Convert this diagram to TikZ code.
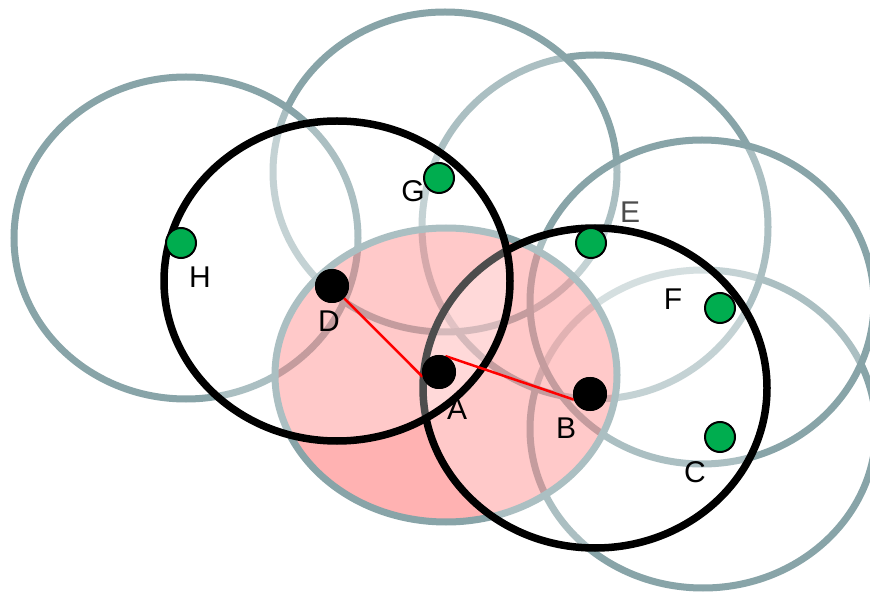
\documentclass[tikz,border=0pt]{standalone}
\usepackage{fontspec}
\setmainfont{Liberation Sans}
\definecolor{rangegrey}{HTML}{88A4A8}
\definecolor{hitgreen}{HTML}{00AD4F}
\tikzset{
  cover/.style={draw=rangegrey, line width=7pt, fill=white, fill opacity=0.3},
  query/.style={draw=rangegrey, line width=7pt, fill=red, fill opacity=0.3},
  bound/.style={draw=black, line width=7.5pt, fill=white, fill opacity=0.3},
  hit/.style={circle, draw=black, line width=2pt, fill=hitgreen, inner sep=0pt, minimum size=30pt},
  point/.style={circle, fill=black, inner sep=0pt, minimum size=34pt},
  lbl/.style={font=\fontsize{30}{30}\selectfont, inner sep=0pt},
  link/.style={draw=red, line width=2.5pt},
}
\begin{document}
\begin{tikzpicture}[x=1pt, y=-1pt]
    \fill[white] (0,0) rectangle (870,593);
    \useasboundingbox (0,0) rectangle (870,593);
    \draw[cover] (703,429) ellipse [x radius=173, y radius=159];
    \draw[cover] (595,227) ellipse [x radius=173, y radius=172];
    \draw[cover] (445,172) ellipse [x radius=172, y radius=160];
    \draw[cover] (186,238) ellipse [x radius=172, y radius=161];
    \draw[cover] (702,302) ellipse [x radius=172, y radius=162];
    \draw[query] (446,375) ellipse [x radius=171, y radius=147];
    \draw[bound] (595,388) ellipse [x radius=172, y radius=160];
    \draw[bound] (337,281) ellipse [x radius=173, y radius=160];
    \node[point] (A) at (439,372) {};
    \node[point] (B) at (590,394) {};
    \node[point] (D) at (332,286) {};
    \draw[link] (D) -- (A.196);
    \draw[link] (A.68) -- (B.199);
    \node[point] at (A) {};
    \node[point] at (B) {};
    \node[point] at (D) {};
    \node[hit] (H) at (181,243) {};
    \node[hit] (G) at (439,178) {};
    \node[hit] (E) at (591,243) {};
    \node[hit] (F) at (720,308) {};
    \node[hit] (C) at (720,437) {};
    \node[lbl] (labA) at (457,409) {A};
    \node[lbl] (labB) at (566,428) {B};
    \node[lbl] (labC) at (695,472) {C};
    \node[lbl] (labD) at (329,321) {D};
    \node[lbl, text=black!70] (labE) at (630,212) {E};
    \node[lbl] (labF) at (673,299) {F};
    \node[lbl] (labG) at (413,191) {G};
    \node[lbl] (labH) at (200,277) {H};
\end{tikzpicture}
\end{document}
